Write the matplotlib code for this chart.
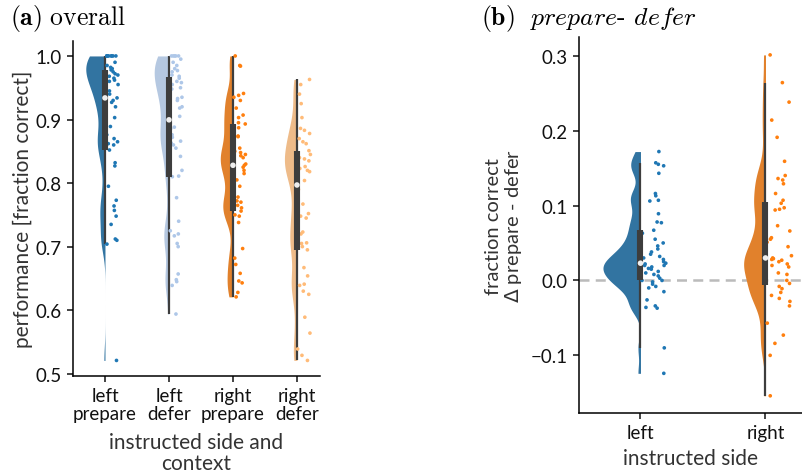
import colorsys
import numpy as np
import matplotlib
matplotlib.use("Agg")
import matplotlib.pyplot as plt
from matplotlib.colors import to_rgb

plt.rcParams['font.family'] = ['Lato', 'DejaVu Sans']
plt.rcParams['mathtext.fontset'] = 'dejavusans'

# ---- data ---------------------------------------------------------------
cats_a = ['left\nprepare', 'left\ndefer', 'right\nprepare', 'right\ndefer']
cats_b = ['left', 'right']

left_prepare = [1.0, 1.0, 1.0, 1.0, 1.0, 1.0, 1.0, 1.0, 0.99, 0.985, 0.982, 0.98,
                0.978, 0.975, 0.972, 0.97, 0.968, 0.965, 0.962, 0.96, 0.958, 0.955,
                0.945, 0.94, 0.934, 0.93, 0.927, 0.92, 0.912, 0.903, 0.889, 0.876,
                0.87, 0.865, 0.862, 0.86, 0.852, 0.832, 0.827, 0.795, 0.773, 0.764,
                0.757, 0.748, 0.735, 0.712, 0.71, 0.704, 0.521]
left_defer = [1.0, 1.0, 1.0, 1.0, 1.0, 0.995, 0.99, 0.985, 0.98, 0.977, 0.975, 0.97,
              0.968, 0.965, 0.96, 0.958, 0.955, 0.95, 0.948, 0.935, 0.933, 0.93, 0.92,
              0.918, 0.905, 0.894, 0.888, 0.886, 0.876, 0.872, 0.866, 0.863, 0.86,
              0.855, 0.842, 0.82, 0.811, 0.81, 0.777, 0.74, 0.725, 0.72, 0.717, 0.705,
              0.70, 0.657, 0.648, 0.645, 0.639, 0.594]
right_prepare = [1.0, 0.985, 0.984, 0.941, 0.938, 0.935, 0.93, 0.918, 0.907, 0.903,
                 0.895, 0.893, 0.887, 0.874, 0.873, 0.855, 0.85, 0.848, 0.845, 0.843,
                 0.84, 0.83, 0.828, 0.825, 0.82, 0.815, 0.805, 0.795, 0.778, 0.772,
                 0.77, 0.765, 0.761, 0.756, 0.75, 0.748, 0.738, 0.697, 0.682, 0.672,
                 0.658, 0.646, 0.643, 0.628, 0.621]
right_defer = [0.963, 0.955, 0.94, 0.925, 0.903, 0.886, 0.883, 0.878, 0.87, 0.865,
               0.862, 0.851, 0.845, 0.84, 0.838, 0.835, 0.83, 0.826, 0.823, 0.82,
               0.818, 0.804, 0.797, 0.79, 0.767, 0.752, 0.748, 0.745, 0.723, 0.72,
               0.706, 0.705, 0.70, 0.695, 0.667, 0.654, 0.641, 0.639, 0.63, 0.625,
               0.589, 0.564, 0.539, 0.529, 0.521]

diff_left = [0.172, 0.157, 0.155, 0.153, 0.143, 0.116, 0.113, 0.107, 0.106, 0.089,
             0.078, 0.077, 0.067, 0.063, 0.055, 0.05, 0.046, 0.042, 0.038, 0.035,
             0.032, 0.03, 0.028, 0.025, 0.023, 0.022, 0.02, 0.02, 0.018, 0.016,
             0.015, 0.012, 0.01, 0.008, 0.006, 0.003, 0.0, 0.0, -0.002, -0.005,
             -0.008, -0.01, -0.015, -0.026, -0.034, -0.036, -0.037, -0.09, -0.124]
diff_right = [0.301, 0.264, 0.238, 0.214, 0.191, 0.159, 0.14, 0.136, 0.134, 0.129,
              0.116, 0.107, 0.103, 0.097, 0.095, 0.094, 0.073, 0.066, 0.057, 0.055,
              0.051, 0.045, 0.033, 0.03, 0.029, 0.028, 0.027, 0.025, 0.022, 0.02,
              0.018, 0.01, 0.008, 0.0, -0.004, -0.008, -0.011, -0.016, -0.02, -0.024,
              -0.028, -0.034, -0.057, -0.073, -0.084, -0.1, -0.154]

colors_a = ['#1f77b4', '#aec7e8', '#ff7f0e', '#ffbb78']
colors_b = ['#1f77b4', '#ff7f0e']

BOX_C = '#3d3d3d'
LABEL_C = '#333333'
rng = np.random.default_rng(3)


def desat(c, p=0.75):
    h, l, s = colorsys.rgb_to_hls(*to_rgb(c))
    return colorsys.hls_to_rgb(h, l, s * p)


def kde(vals, bw_fac=0.2, n=300):
    v = np.asarray(vals, float)
    bw = bw_fac * v.std(ddof=1)
    grid = np.linspace(v.min(), v.max(), n)
    z = (grid[:, None] - v[None, :]) / bw
    dens = np.exp(-0.5 * z ** 2).sum(1) / (len(v) * bw * np.sqrt(2 * np.pi))
    return grid, dens


def raincloud(ax, groups, colors, half=0.3):
    curves = [kde(g) for g in groups]
    peak = max(d.max() for _, d in curves)
    for i, (g, c, (grid, dens)) in enumerate(zip(groups, colors, curves)):
        g = np.asarray(g, float)
        # half violin on the left of the category
        ax.fill_betweenx(grid, i - dens / peak * half, i, color=desat(c), lw=0, zorder=1)
        # box: thick quartile bar, thin whiskers, white median dot
        q1, med, q3 = np.percentile(g, [25, 50, 75])
        iqr = q3 - q1
        lo = g[g >= q1 - 1.5 * iqr].min()
        hi = g[g <= q3 + 1.5 * iqr].max()
        ax.plot([i, i], [lo, hi], color=BOX_C, lw=1.6, solid_capstyle='butt', zorder=2)
        ax.plot([i, i], [q1, q3], color=BOX_C, lw=4.4, solid_capstyle='butt', zorder=3)
        ax.scatter([i], [med], s=16, color='#eeeeee', edgecolor='none', zorder=4)
        # jittered raw points on the right
        xs = i + 0.11 + rng.uniform(-0.1, 0.1, len(g))
        ax.scatter(xs, g, s=7, color=c, edgecolor='none', zorder=2)


def style(ax):
    for s in ['top', 'right']:
        ax.spines[s].set_visible(False)
    for s in ['left', 'bottom']:
        ax.spines[s].set_linewidth(1.1)
    ax.tick_params(width=1.1, length=4.5, labelsize=13.5, colors='#111111')


fig = plt.figure(figsize=(8.02, 4.77), dpi=100)

# (a) overall
ax = fig.add_axes([0.091, 0.2103, 0.308, 0.7023])
raincloud(ax, [left_prepare, left_defer, right_prepare, right_defer], colors_a)
ax.set_xlim(-0.5, 3.36)
ax.set_ylim(0.497, 1.024)
ax.set_yticks([0.5, 0.6, 0.7, 0.8, 0.9, 1.0])
ax.set_xticks(range(len(cats_a)))
ax.set_xticklabels(cats_a, linespacing=1.1)
ax.set_ylabel('performance [fraction correct]', fontsize=15, color=LABEL_C, labelpad=2)
ax.set_xlabel('instructed side and\ncontext', fontsize=15, color=LABEL_C,
              linespacing=1.05, labelpad=7)
style(ax)

# (b) prepare - defer
bx = fig.add_axes([0.7216, 0.132, 0.2784, 0.7877])
bx.axhline(0, color='#bbbbbb', lw=1.8, ls=(0, (4, 2.5)), zorder=0)
raincloud(bx, [diff_left, diff_right], colors_b)
bx.set_xlim(-0.494, 1.292)
bx.set_ylim(-0.177, 0.3245)
bx.set_yticks([-0.1, 0.0, 0.1, 0.2, 0.3])
bx.set_xticks(range(len(cats_b)))
bx.set_xticklabels(cats_b)
bx.set_ylabel('fraction correct\n$\\mathit{\\Delta}$ prepare - defer', fontsize=14.5,
              color=LABEL_C, linespacing=1.05, labelpad=5)
bx.set_xlabel('instructed side', fontsize=15, color=LABEL_C, labelpad=5)
style(bx)

fig.text(0.012, 0.962, r'$\mathbf{(a)}\ \mathrm{overall}$', fontsize=18.5,
         math_fontfamily='cm', va='center')
fig.text(0.600, 0.962, r'$\mathbf{(b)}\ \ \mathit{prepare}$- $\mathit{defer}$',
         fontsize=18.5, math_fontfamily='cm', family='cmr10', va='center')

fig.savefig('out.png', dpi=100)
